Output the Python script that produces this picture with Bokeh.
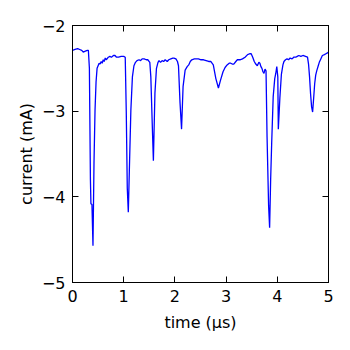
from bokeh.plotting import figure
from bokeh.models import LinearAxis, FixedTicker, Range1d
from bokeh.embed import file_html
from bokeh.resources import INLINE

time_us = [0.00, 0.05, 0.10, 0.14, 0.18, 0.21, 0.25, 0.29, 0.31, 0.33, 0.35, 0.36, 0.38, 0.40, 0.42,
           0.44, 0.46, 0.48, 0.50, 0.52, 0.54, 0.56, 0.58, 0.60, 0.62, 0.64, 0.66, 0.70, 0.73, 0.76,
           0.80, 0.83, 0.86, 0.90, 0.95, 1.00, 1.03, 1.05, 1.07, 1.09, 1.11, 1.14, 1.17, 1.20, 1.23,
           1.26, 1.30, 1.33, 1.36, 1.40, 1.44, 1.47, 1.51, 1.53, 1.56, 1.58, 1.61, 1.64, 1.67, 1.69,
           1.72, 1.75, 1.78, 1.81, 1.85, 1.88, 1.92, 1.96, 1.98, 2.02, 2.05, 2.07, 2.10, 2.13, 2.16,
           2.20, 2.24, 2.27, 2.30, 2.33, 2.38, 2.42, 2.46, 2.51, 2.56, 2.61, 2.66, 2.70, 2.75, 2.80,
           2.85, 2.89, 2.94, 2.98, 3.02, 3.06, 3.09, 3.12, 3.15, 3.19, 3.22, 3.27, 3.32, 3.37, 3.42,
           3.46, 3.49, 3.52, 3.55, 3.58, 3.61, 3.64, 3.66, 3.68, 3.70, 3.72, 3.74, 3.76, 3.78, 3.80,
           3.83, 3.85, 3.87, 3.89, 3.92, 3.95, 3.97, 3.99, 4.01, 4.02, 4.05, 4.08, 4.11, 4.13, 4.16,
           4.19, 4.22, 4.25, 4.29, 4.32, 4.36, 4.39, 4.42, 4.46, 4.50, 4.55, 4.59, 4.61, 4.63, 4.65,
           4.67, 4.69, 4.71, 4.73, 4.75, 4.77, 4.80, 4.82, 4.85, 4.88, 4.92, 4.95, 4.98, 5.00]
current_mA = [-2.29, -2.28, -2.27, -2.28, -2.29, -2.31, -2.30, -2.29, -2.29, -2.50, -3.80, -4.08, -4.09, -4.57, -3.60,
              -2.99, -2.66, -2.50, -2.47, -2.44, -2.45, -2.42, -2.44, -2.40, -2.42, -2.38, -2.40, -2.37, -2.36, -2.37,
              -2.35, -2.35, -2.37, -2.37, -2.36, -2.36, -2.37, -3.00, -3.90, -4.18, -3.70, -2.99, -2.60, -2.47, -2.43,
              -2.41, -2.40, -2.41, -2.39, -2.39, -2.40, -2.40, -2.43, -2.60, -3.20, -3.58, -2.79, -2.50, -2.43, -2.41,
              -2.43, -2.41, -2.42, -2.40, -2.42, -2.40, -2.39, -2.38, -2.38, -2.39, -2.42, -2.47, -2.90, -3.21, -2.71,
              -2.52, -2.48, -2.46, -2.42, -2.40, -2.39, -2.39, -2.39, -2.40, -2.40, -2.41, -2.42, -2.42, -2.46, -2.62,
              -2.73, -2.64, -2.54, -2.49, -2.46, -2.44, -2.44, -2.45, -2.45, -2.42, -2.40, -2.40, -2.39, -2.37, -2.34,
              -2.33, -2.33, -2.37, -2.42, -2.45, -2.47, -2.43, -2.44, -2.48, -2.50, -2.54, -2.56, -2.51, -2.53, -3.30,
              -4.10, -4.36, -3.80, -3.38, -2.83, -2.62, -2.56, -2.48, -2.60, -3.21, -2.85, -2.57, -2.46, -2.42, -2.40,
              -2.39, -2.40, -2.38, -2.39, -2.37, -2.37, -2.36, -2.35, -2.36, -2.35, -2.36, -2.37, -2.45, -2.60, -2.80,
              -2.95, -3.01, -2.85, -2.68, -2.58, -2.53, -2.47, -2.43, -2.39, -2.35, -2.34, -2.33, -2.32, -2.31]

x_ticks = [0, 1, 2, 3, 4, 5]
y_ticks = [-5, -4, -3, -2]
x_label = "time (μs)"
y_label = "current (mA)"

FONT = "DejaVu Sans"

p = figure(width=342, height=342, output_backend="svg", toolbar_location=None,
           x_range=Range1d(0, 5), y_range=Range1d(-5, -2),
           x_axis_location=None, y_axis_location=None,
           min_border_left=72, min_border_right=14, min_border_top=25, min_border_bottom=60)
p.xgrid.visible = False
p.ygrid.visible = False
p.outline_line_color = "black"
p.outline_line_width = 1
p.background_fill_color = "white"
p.border_fill_color = "white"

p.line(time_us, current_mA, line_color="#0000ff", line_width=1.3)


def style(ax, ticks, show_labels):
    ax.ticker = FixedTicker(ticks=ticks)
    ax.major_tick_in = 6
    ax.major_tick_out = 0
    ax.minor_tick_in = 0
    ax.minor_tick_out = 0
    ax.axis_line_color = "black"
    ax.major_tick_line_color = "black"
    ax.major_label_text_font = FONT
    ax.major_label_text_font_size = "16px"
    ax.major_label_text_color = "black"
    ax.axis_label_text_font = FONT
    ax.axis_label_text_font_size = "16px"
    ax.axis_label_text_font_style = "normal"
    ax.axis_label_text_color = "black"
    if not show_labels:
        ax.major_label_overrides = {t: "" for t in ticks}
        ax.major_label_standoff = 0


xb = LinearAxis(axis_label=x_label)
style(xb, x_ticks, True)
xb.major_label_standoff = 7
xb.axis_label_standoff = 8
xb.major_label_overrides = {t: str(t) for t in x_ticks}

yl = LinearAxis(axis_label=y_label)
style(yl, y_ticks, True)
yl.major_label_standoff = 7
yl.axis_label_standoff = 3
yl.major_label_overrides = {t: str(t).replace("-", "\u2212") for t in y_ticks}

xt = LinearAxis()
style(xt, x_ticks, False)
yr = LinearAxis()
style(yr, y_ticks, False)

p.add_layout(xb, "below")
p.add_layout(yl, "left")
p.add_layout(xt, "above")
p.add_layout(yr, "right")

open("out.html", "w").write(file_html(p, INLINE))
